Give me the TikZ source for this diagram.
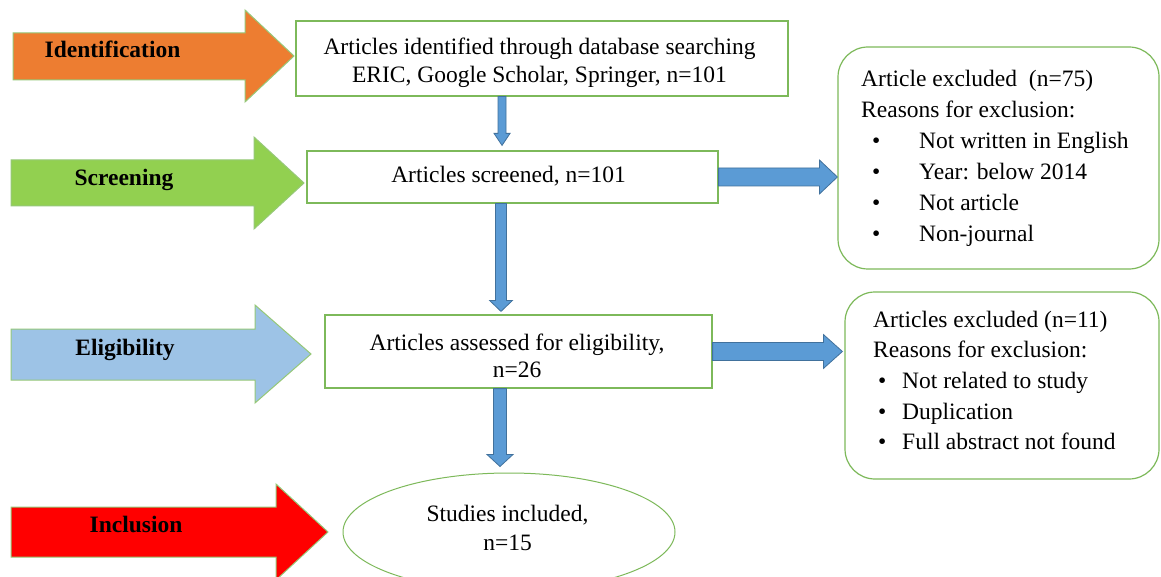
\documentclass[tikz,border=0pt]{standalone}
\usepackage{fontspec}
\setmainfont{Liberation Serif}
\usetikzlibrary{calc,shapes.geometric}
\definecolor{boxgreen}{RGB}{125,185,90}
\definecolor{stageline}{RGB}{150,200,120}
\definecolor{orng}{RGB}{237,125,49}
\definecolor{grn}{RGB}{146,208,80}
\definecolor{lblue}{RGB}{157,195,230}
\definecolor{rd}{RGB}{255,0,0}
\definecolor{cfill}{RGB}{91,155,213}
\definecolor{cline}{RGB}{65,113,156}
\newcommand{\blockV}[5]{\path[conn] let \p1=(#1), \p2=(#2) in (\x1-#3,\y1) -- (\x1-#3,\y2+#5) -- (\x1-#4,\y2+#5) -- (\x1,\y2) -- (\x1+#4,\y2+#5) -- (\x1+#3,\y2+#5) -- (\x1+#3,\y1) -- cycle;}
\newcommand{\blockH}[5]{\path[conn] let \p1=(#1), \p2=(#2) in (\x1,\y1+#3) -- (\x2-#5,\y1+#3) -- (\x2-#5,\y1+#4) -- (\x2,\y1) -- (\x2-#5,\y1-#4) -- (\x2-#5,\y1-#3) -- (\x1,\y1-#3) -- cycle;}
\tikzset{
  box/.style={draw=boxgreen, line width=1.2pt, fill=white, inner sep=0pt},
  exbox/.style={draw=boxgreen, line width=1.2pt, fill=white, rounded corners=30pt, inner sep=0pt},
  conn/.style={fill=cfill, draw=cline, line width=0.8pt},
  stage/.style={draw=stageline, line width=1pt},
  stagelbl/.style={inner sep=0pt, font=\fontsize{23.5}{28}\selectfont\bfseries},
  txt/.style={inner sep=0pt},
}
\begin{document}
\begin{tikzpicture}[x=1pt, y=-1pt, font=\fontsize{23.5}{27.5}\selectfont]
\useasboundingbox (0,0) rectangle (1161,577);
\clip (0,0) rectangle (1161,577);
\fill[white] (0,0) rectangle (1161,577);
% stage arrows
\path[stage, fill=orng] (13,33) -- (245,33) -- (245,10) -- (294,56) -- (245,102) -- (245,80) -- (13,80) -- cycle;
\path[stage, fill=grn] (11,160) -- (254,160) -- (254,137) -- (304,183) -- (254,229) -- (254,206) -- (11,206) -- cycle;
\path[stage, fill=lblue] (11,329) -- (255,329) -- (255,305) -- (311,354) -- (255,403) -- (255,380) -- (11,380) -- cycle;
\path[stage, fill=rd] (11,507) -- (276,507) -- (276,484) -- (328,532) -- (276,580) -- (276,557) -- (11,557) -- cycle;
\node[stagelbl] (sid) at (112.5,49) {Identification};
\node[stagelbl] (ssc) at (124,180) {Screening};
\node[stagelbl] (sel) at (125,350) {Eligibility};
\node[stagelbl] (sin) at (136,524) {Inclusion};
% boxes
\node[box, minimum width=492pt, minimum height=75pt] (b1) at (542,58.5) {};
\node[txt, anchor=base] (b1t) at (539.5,55) {\begin{tabular}[t]{@{}c@{}}Articles identified through database searching\\ERIC, Google Scholar, Springer, n=101\end{tabular}};
\node[box, minimum width=411pt, minimum height=52pt] (b2) at (512.5,177) {};
\node[txt] (b2t) at (508.5,176) {Articles screened, n=101};
\node[box, minimum width=387pt, minimum height=73pt] (b3) at (518.5,351.5) {};
\node[txt, anchor=base, font=\fontsize{23.5}{27}\selectfont] (b3t) at (517,350) {\begin{tabular}[t]{@{}c@{}}Articles assessed for eligibility,\\n=26\end{tabular}};
\node[draw=boxgreen, line width=1pt, ellipse, minimum width=332pt, minimum height=118pt, inner sep=0pt] (incl) at (509,532) {};
\node[txt, anchor=base, font=\fontsize{23.5}{29}\selectfont] (inclt) at (507.5,521) {\begin{tabular}[t]{@{}c@{}}Studies included,\\n=15\end{tabular}};
% exclusion boxes
\node[exbox, minimum width=321pt, minimum height=222pt] (ex1) at (998.5,158) {};
\node[txt, anchor=base west, font=\fontsize{23.5}{31}\selectfont] (ex1t) at (861,87) {\begin{tabular}[t]{@{}l@{}}Article excluded\ \ (n=75)\\Reasons for exclusion:\\\hspace{11pt}\makebox[47pt][l]{\textbullet}Not written in English\\\hspace{11pt}\makebox[47pt][l]{\textbullet}Year: below 2014\\\hspace{11pt}\makebox[47pt][l]{\textbullet}Not article\\\hspace{11pt}\makebox[47pt][l]{\textbullet}Non-journal\end{tabular}};
\node[exbox, minimum width=314pt, minimum height=187pt] (ex2) at (1002,385.5) {};
\node[txt, anchor=base west, font=\fontsize{23.5}{30.7}\selectfont] (ex2t) at (873,327) {\begin{tabular}[t]{@{}l@{}}Articles excluded (n=11)\\Reasons for exclusion:\\\hspace{5pt}\makebox[24pt][l]{\textbullet}Not related to study\\\hspace{5pt}\makebox[24pt][l]{\textbullet}Duplication\\\hspace{5pt}\makebox[24pt][l]{\textbullet}Full abstract not found\end{tabular}};
% connector coordinates
\coordinate (v1a) at (502,0 |- b1.south);
\coordinate (v1b) at ($(502,0 |- b2.north)+(0,-5)$);
\coordinate (v2a) at (501,0 |- b2.south);
\coordinate (v2b) at ($(501,0 |- b3.north)+(0,-3)$);
\coordinate (v3a) at (500,0 |- b3.south);
\coordinate (v3b) at ($(500,0 |- incl.north)+(0,-6)$);
\coordinate (h1b) at (b2.east -| ex1.west);
\coordinate (h2b) at ($(b3.east -| ex2.west)+(-2,0)$);
\blockV{v1a}{v1b}{4pt}{8pt}{12pt}
\blockV{v2a}{v2b}{5.5pt}{11.5pt}{11pt}
\blockV{v3a}{v3b}{6.5pt}{13pt}{12pt}
\blockH{b2.east}{h1b}{9pt}{17pt}{18pt}
\blockH{b3.east}{h2b}{9pt}{17pt}{19pt}
\end{tikzpicture}
\end{document}
